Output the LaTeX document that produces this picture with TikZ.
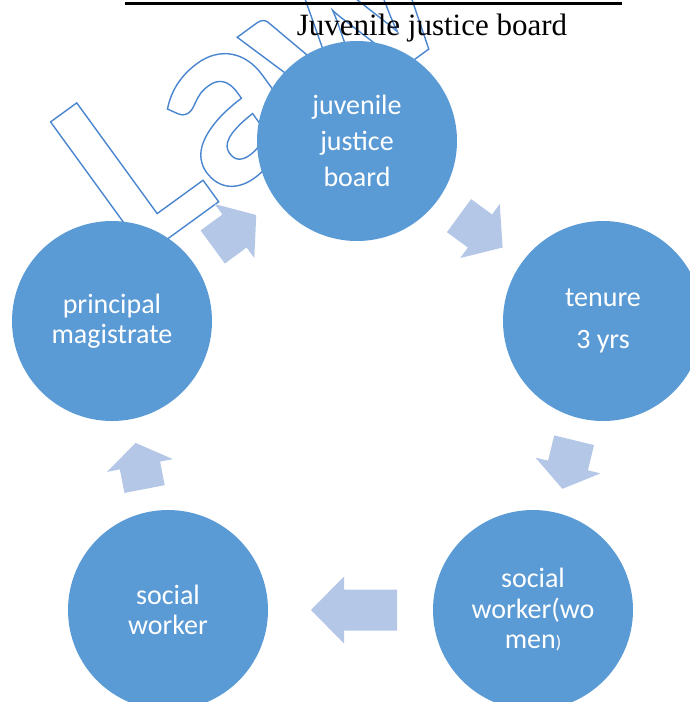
\documentclass[tikz,border=0pt]{standalone}
\usepackage{fontspec}
\setmainfont{Carlito}
\newfontfamily\titlefont{Liberation Serif}
\usetikzlibrary{calc}

\definecolor{circleblue}{HTML}{5B9BD5}
\definecolor{arrowblue}{HTML}{B4C7E7}
\definecolor{markblue}{HTML}{4A86CF}

\tikzset{
  stage/.style={circle, fill=circleblue, minimum size=200pt, inner sep=0pt, text=white, align=center},
  flow/.style={fill=arrowblue},
}

\newcommand{\cyclearrow}[5]{%
  \fill[flow] let \p1 = ($(#2)-(#1)$), \n1 = {atan2(\y1,\x1)} in
    [shift={($(#1)!0.5!(#2)$)}, rotate=\n1]
    (#4,0) -- (#3,33.5) -- (#3,20.5) -- (#5,20.5) -- (#5,-20.5) -- (#3,-20.5) -- (#3,-33.5) -- cycle;
}

\begin{document}
\begin{tikzpicture}[x=1pt, y=-1pt]
    \useasboundingbox (0,0) rectangle (690,702);
    \clip (0,0) rectangle (690,702);
    \node[rotate=36, anchor=base west, text=markblue, font=\fontsize{252}{252}\selectfont\bfseries] (mark) at (133,264)
      {\special{pdf:literal direct 1 Tr 1.4 w 0.29 0.525 0.81 RG}L\kern-6pt a\kern-12pt w\special{pdf:literal direct 0 Tr}};
    \draw[line width=3pt] (125,3.5) -- (622,3.5);
    \node[anchor=base, font=\titlefont\fontsize{31}{31}\selectfont] (title) at (432,35) {Juvenile justice board};
    \node[stage, font=\fontsize{28}{36}\selectfont] (jjb) at (357,141) {juvenile\\justice\\board};
    \node[stage, font=\fontsize{28}{42}\selectfont] (tenure) at (603,321) {tenure\\3 yrs};
    \node[stage, font=\fontsize{28}{30.5}\selectfont] (sww) at (533,610) {social\\worker(wo\\men{\fontsize{18}{18}\selectfont)}};
    \node[stage, font=\fontsize{28}{30}\selectfont] (sw) at (168,610) {social\\worker};
    \node[stage, font=\fontsize{28}{30}\selectfont] (pm) at (112,321) {principal\\magistrate};
    \cyclearrow{jjb}{tenure}{0}{28}{-26}
    \cyclearrow{tenure}{sww}{0}{24}{-26}
    \cyclearrow{sww}{sw}{6.5}{39.5}{-46.5}
    \cyclearrow{sw}{pm}{0}{23}{-24}
    \cyclearrow{pm}{jjb}{0}{27}{-27}
  \end{tikzpicture}
\end{document}
